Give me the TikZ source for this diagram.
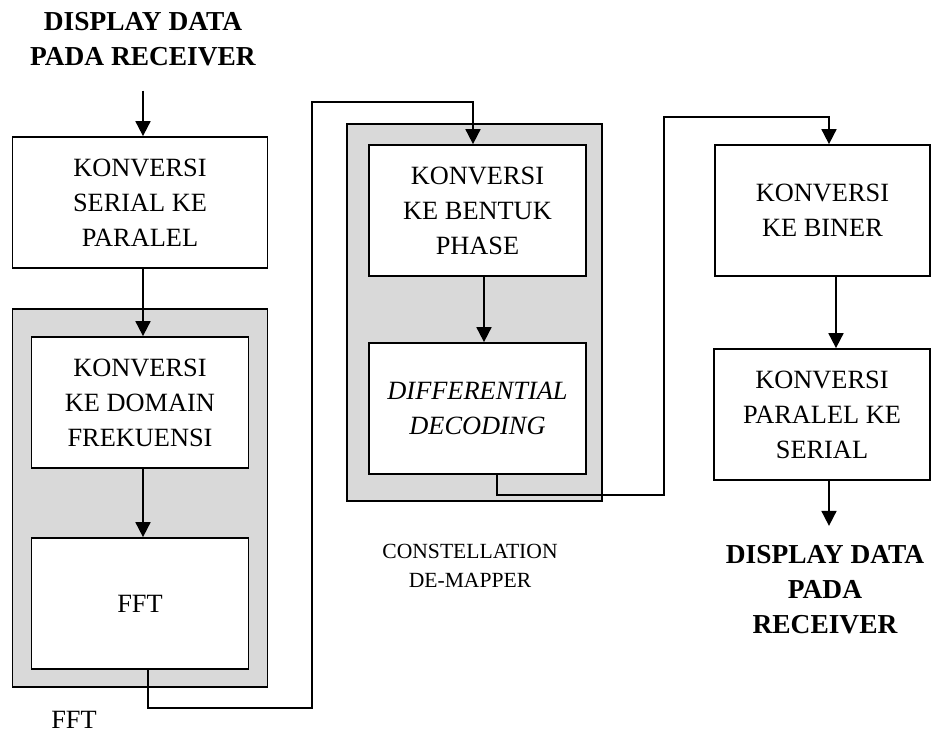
\documentclass[tikz,border=0pt]{standalone}
\usepackage{fontspec}
\setmainfont{Liberation Serif}
\usetikzlibrary{arrows.meta}
\begin{document}
\begin{tikzpicture}[x=0.02cm,y=-0.02cm,inner sep=1mm,line width=1pt,
	blok/.style={rectangle,draw,fill=white,minimum width=4.34cm,minimum height=2.62cm,align=center,font=\fontsize{15}{19.9}\selectfont},
	grup/.style={rectangle,draw,fill=gray!30,minimum width=5.1cm},
	ket/.style={inner sep=0,align=center,font=\fontsize{15}{19.9}\selectfont},
	judul/.style={ket,font=\fontsize{15.6}{19.9}\selectfont\bfseries},
	panah/.style={-{Triangle[length=8.5pt,width=8.5pt]}}]
	\useasboundingbox (0,0) rectangle (931,733);
%	kotak abu-abu
	\node [grup,minimum height=7.56cm] (gfft) at (140,498) {};
	\node [grup,minimum height=7.54cm] (gcon) at (474.5,312.5) {};
	\node [judul] (atas) at (143,39) {DISPLAY DATA\\PADA RECEIVER};
	\node [blok,minimum width=5.1cm] (serpar) at (140,202.5) {KONVERSI\\SERIAL KE\\PARALEL};
	\node [blok] (domain) at (140,402.5) {KONVERSI\\KE DOMAIN\\FREKUENSI};
	\node [blok] (fft) at (140,603.5) {FFT};
	\node [ket] (lfft) at (74,720) {FFT};
	\node [blok] (phase) at (477.5,210.5) {KONVERSI\\KE BENTUK\\PHASE};
	\node [blok] (diffdec) at (477.5,408.5) {\itshape DIFFERENTIAL\\\itshape DECODING};
	\node [ket,font=\fontsize{12.3}{16.4}\selectfont] (lcon) at (470,565.5) {CONSTELLATION\\DE-MAPPER};
	\node [blok,minimum width=4.3cm] (biner) at (822.5,210.5) {KONVERSI\\KE BINER};
	\node [blok,minimum width=4.32cm] (parser) at (822,414.5) {KONVERSI\\PARALEL KE\\SERIAL};
	\node [judul] (bawah) at (825,590) {DISPLAY DATA\\PADA\\RECEIVER};
	\draw [panah] ([yshift=-0.48cm]atas.south) -- (atas.south |- serpar.north);
	\draw [panah] ([xshift=0.06cm]serpar.south) -- ([xshift=0.06cm]domain.north);
	\draw [panah] ([xshift=0.06cm]domain.south) -- ([xshift=0.06cm]fft.north);
	\draw [panah] ([xshift=0.16cm]fft.south) -- ++(0,38) -| (312,102) -| ([xshift=-0.09cm]phase.north);
	\draw [panah] ([xshift=0.13cm]phase.south) -- ([xshift=0.13cm]diffdec.north);
	\draw [panah] ([xshift=0.39cm]diffdec.south) -- ++(0,20) -| (664,117) -| ([xshift=0.13cm]biner.north);
	\draw [panah] ([xshift=0.27cm]biner.south) -- ([xshift=0.28cm]parser.north);
	\draw [panah] ([xshift=0.14cm]parser.south) -- ([xshift=0.08cm,yshift=0.38cm]bawah.north);
\end{tikzpicture}
\end{document}
